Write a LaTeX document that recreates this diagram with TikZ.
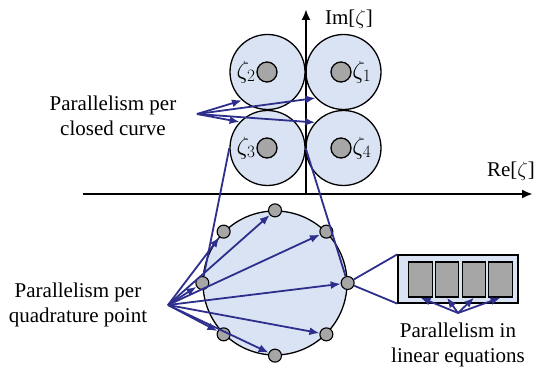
\documentclass[tikz,border=0pt]{standalone}
\usepackage{fontspec}
\setmainfont{Liberation Serif}
\usetikzlibrary{arrows.meta}
\definecolor{paleblue}{HTML}{DAE3F3}
\definecolor{navy}{HTML}{2E2E8C}
\definecolor{dotgray}{HTML}{A6A6A6}

\begin{document}
\begin{tikzpicture}[x=1pt, y=-1pt,
    disk/.style={circle, draw, line width=1.3pt, fill=paleblue, minimum size=75pt, inner sep=0pt},
    dot/.style={circle, draw, line width=1.3pt, fill=dotgray, minimum size=20pt, inner sep=0pt},
    qpt/.style={circle, draw, line width=1.1pt, fill=dotgray, minimum size=13pt, inner sep=0pt},
    cell/.style={draw, line width=1.3pt, fill=dotgray, minimum width=23.5pt, minimum height=35pt, inner sep=0pt},
    txt/.style={align=center, inner sep=1pt, font=\fontsize{21}{25}\selectfont},
    pole/.style={inner sep=0.5pt, font=\fontsize{25}{28}\selectfont},
    axis/.style={line width=2.5pt, -{Latex[length=11pt, width=9pt]}},
    arr/.style={navy, line width=1.8pt, -{Latex[length=10pt, width=8pt]}},
    zoomline/.style={navy, line width=1.8pt}]
        \useasboundingbox (0,0) rectangle (543,371);

        % Four closed curves round the poles
        \node[disk] (c2) at (267.5,72) {};
        \node[disk] (c1) at (343.5,72) {};
        \node[disk] (c3) at (267.5,148) {};
        \node[disk] (c4) at (343.5,148) {};

        % Poles and their names
        \node[dot] (d2) at (267,72) {};
        \node[dot] (d1) at (341,72) {};
        \node[dot] (d3) at (267,148) {};
        \node[dot] (d4) at (341,148) {};
        \node[pole, anchor=east] (z2) at (d2.west) {$\zeta_2$};
        \node[pole, anchor=west] (z1) at (d1.east) {$\zeta_1$};
        \node[pole, anchor=east] (z3) at (d3.west) {$\zeta_3$};
        \node[pole, anchor=west] (z4) at (d4.east) {$\zeta_4$};

        % Complex plane axes
        \coordinate (ybot) at (306,194);
        \coordinate (ytop) at (306,9);
        \coordinate (xleft) at (83,194);
        \coordinate (xright) at (533,194);
        \draw[axis] (ybot) -- (ytop);
        \draw[axis] (xleft) -- (xright);
        \node[txt] (imlab) at (349,19) {Im[$\zeta$]};
        \node[txt] (relab) at (511,171) {Re[$\zeta$]};

        % Closed curve zoomed in, with its quadrature points
        \node[disk, minimum size=144pt] (quad) at (275,283) {};
        \foreach \a [count=\i] in {0,45,...,315}
            \node[qpt] (q\i) at (quad.\a) {};
        \draw[zoomline] (c3.west) -- (q5);
        \draw[zoomline] (c3.east) -- (q1);

        % Linear system box
        \node[draw, line width=1.3pt, fill=paleblue, minimum width=120pt, minimum height=48pt] (lin) at (458,279) {};
        \foreach \x [count=\i] in {420.5,447,474,500.5}
            \node[cell] (r\i) at (\x,279.5) {};
        \draw[zoomline] (q1) -- (lin.north west);
        \draw[zoomline] (q1) -- (lin.south west);

        % Parallelism per closed curve
        \node[txt] (curvelab) at (113,115.5) {Parallelism per\\closed curve};
        \coordinate (csrc) at (197,114);
        \draw[arr] (csrc) -- (c2.228);
        \draw[arr] (csrc) -- (c3.137);
        \draw[arr] (csrc) -- (c1.223);
        \draw[arr] (csrc) -- (c4.138);

        % Parallelism per quadrature point
        \node[txt] (quadlab) at (78,305) {Parallelism per\\quadrature point};
        \coordinate (qsrc) at (168,305);
        \foreach \i in {1,...,8}
            \draw[arr] (qsrc) -- (q\i);

        % Parallelism in linear equations
        \node[txt] (linlab) at (458,345) {Parallelism in\\linear equations};
        \coordinate (lsrc) at (458,313);
        \foreach \i in {1,...,4}
            \draw[arr] (lsrc) -- (r\i.south);
\end{tikzpicture}
\end{document}
